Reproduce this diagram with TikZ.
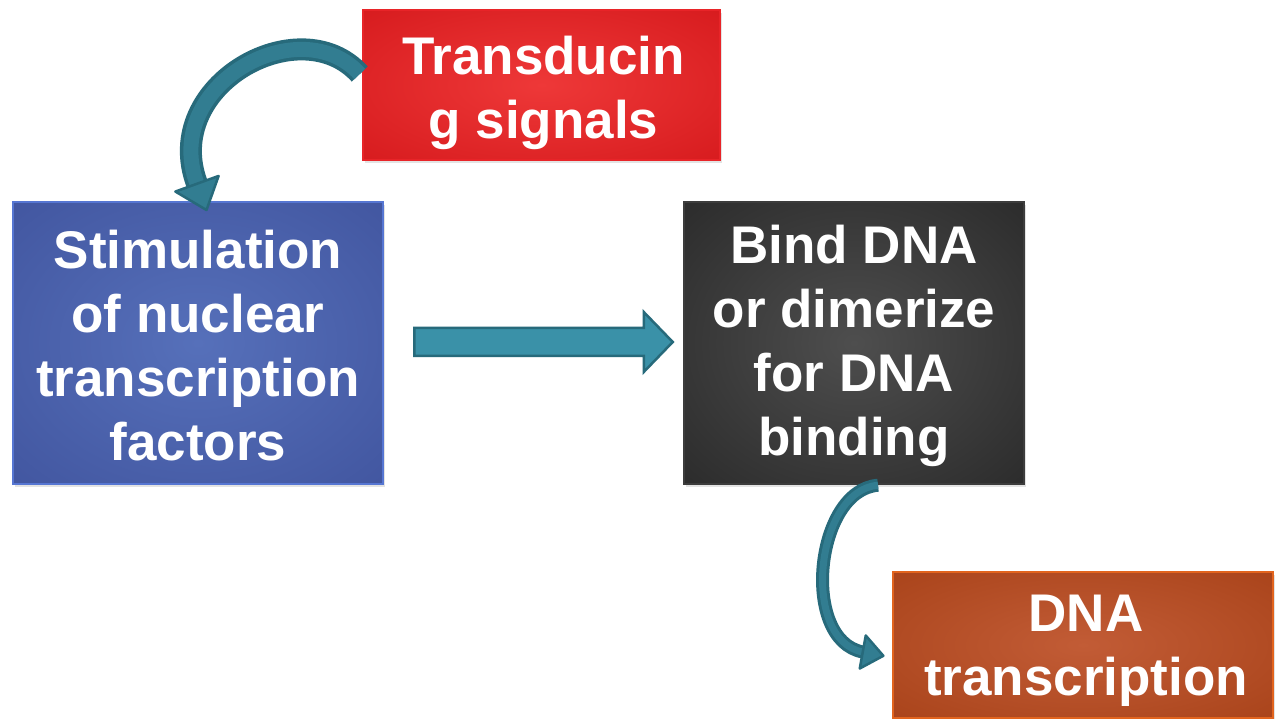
\documentclass[tikz,border=0pt]{standalone}
\usepackage{fontspec}
\setmainfont{Liberation Sans}
\usetikzlibrary{calc,shadows}
\definecolor{redin}{HTML}{EE3838}
\definecolor{redout}{HTML}{CE1014}
\definecolor{redline}{HTML}{E82428}
\definecolor{bluein}{HTML}{5670BA}
\definecolor{blueout}{HTML}{3A4C96}
\definecolor{blueline}{HTML}{5676D2}
\definecolor{blkin}{HTML}{4E4E4E}
\definecolor{blkout}{HTML}{1E1E1E}
\definecolor{blkline}{HTML}{3C3C3C}
\definecolor{orin}{HTML}{C25C36}
\definecolor{orout}{HTML}{A03A10}
\definecolor{orline}{HTML}{E2641E}
\definecolor{tealfill}{HTML}{3A91A8}
\definecolor{tealmid}{HTML}{327D91}
\definecolor{tealdark}{HTML}{276A7B}
\pgfdeclareradialshading{redsh}{\pgfpointorigin}{color(0bp)=(redin); color(50bp)=(redout); color(100bp)=(redout)}
\pgfdeclareradialshading{bluesh}{\pgfpointorigin}{color(0bp)=(bluein); color(50bp)=(blueout); color(100bp)=(blueout)}
\pgfdeclareradialshading{blksh}{\pgfpointorigin}{color(0bp)=(blkin); color(50bp)=(blkout); color(100bp)=(blkout)}
\pgfdeclareradialshading{orsh}{\pgfpointorigin}{color(0bp)=(orin); color(50bp)=(orout); color(100bp)=(orout)}
\begin{document}
\begin{tikzpicture}[x=1pt,y=-1pt,
  box/.style={rectangle, inner sep=0pt, line width=2.5pt,
    drop shadow={opacity=0.22, shadow xshift=2pt, shadow yshift=-3pt}},
  txt/.style={inner sep=0pt, align=center, text=white,
    font=\fontsize{53}{64}\selectfont\bfseries},
  bandout/.style={draw=tealdark, line width=#1, line cap=butt},
  bandin/.style={draw=tealmid, line width=#1, line cap=butt},
  headstyle/.style={draw=tealdark, fill=tealmid, line width=2.5pt, line join=round},
  blockarrow/.style={draw=tealdark, fill=tealfill, line width=2.5pt, line join=miter}]
\useasboundingbox (0,0) rectangle (1275,719);
\fill[white] (0,0) rectangle (1275,719);

\node[box, minimum width=357pt, minimum height=150pt, shading=redsh, draw=redline] (sig) at (541.5,85) {};
\node[txt] (sigt) at ($(sig.center)+(2,8)$) {Transducin\\g signals};
\node[box, minimum width=370pt, minimum height=282pt, shading=bluesh, draw=blueline] (stim) at (198,343) {};
\node[txt] (stimt) at ($(stim.center)+(0,3)$) {Stimulation\\of nuclear\\transcription\\factors};
\node[box, minimum width=340pt, minimum height=282pt, shading=blksh, draw=blkline] (bind) at (854,343) {};
\node[txt] (bindt) at ($(bind.center)+(0,3)$) {Bind DNA\\or dimerize\\for DNA\\binding};
\node[box, minimum width=380pt, minimum height=146pt, shading=orsh, draw=orline] (dna) at (1083,645) {};
\node[txt] (dnat) at ($(dna.center)+(3,6)$) {DNA\\transcription};

% straight block arrow from stim to bind
\draw[blockarrow] ($(stim.east)+(30,-15)$) -- ($(bind.west)+(-39,-15)$) -- ($(bind.west)+(-39,-31)$)
  -- ($(bind.west)+(-10,-1)$) -- ($(bind.west)+(-39,29)$) -- ($(bind.west)+(-39,13)$)
  -- ($(stim.east)+(30,13)$) -- cycle;

% curved arrow from sig to stim
\coordinate (c1s) at ($(sig.west)+(-2,-11)$);
\coordinate (c1e) at ($(stim.north)+(-1,-17)$);
\draw[bandout=22pt] (c1s) .. controls (300,8) and (160,85) .. (c1e);
\draw[bandin=15pt] (c1s) .. controls (300,8) and (160,85) .. (c1e);
\draw[headstyle] ($(c1e)+(21.6,-7.8)$) -- ($(c1e)+(9.5,26.3)$) -- ($(c1e)+(-21.6,7.8)$) -- cycle;

% curved arrow from bind to dna
\coordinate (c2s) at ($(bind.south)+(24,0)$);
\coordinate (c2e) at ($(dna.west)+(-29,7)$);
\draw[bandout=13pt] (c2s) .. controls (815,490) and (800,640) .. (c2e);
\draw[bandin=7pt] (c2s) .. controls (815,490) and (800,640) .. (c2e);
\draw[headstyle] ($(c2e)+(3,-16.5)$) -- ($(c2e)+(20.6,3.8)$) -- ($(c2e)+(-3,16.5)$) -- cycle;
\end{tikzpicture}
\end{document}
